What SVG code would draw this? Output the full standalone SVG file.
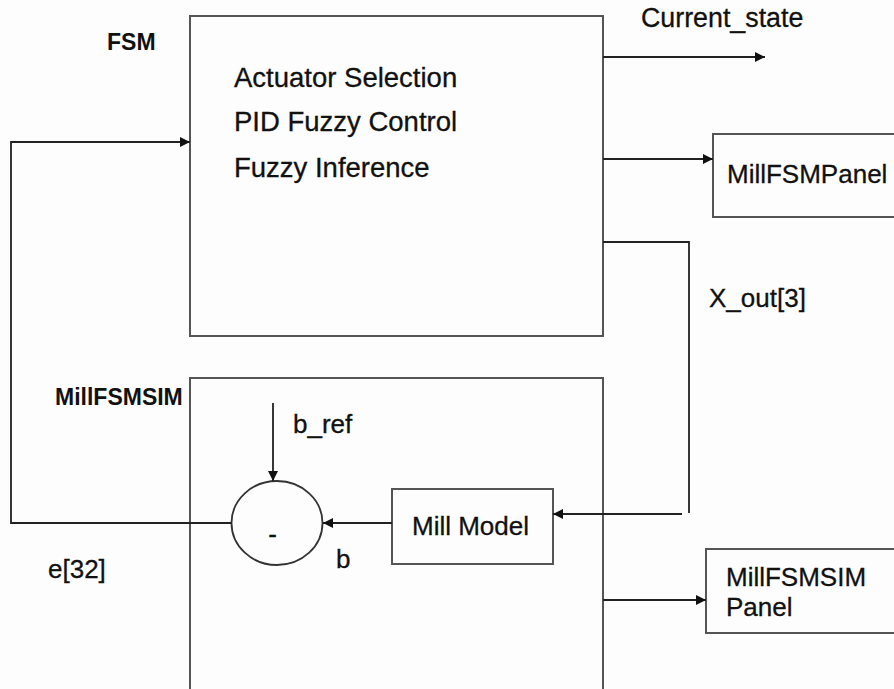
<svg xmlns="http://www.w3.org/2000/svg" width="894" height="689" viewBox="0 0 894 689">
<style>
.box{fill:none;stroke:#555;stroke-width:2}
.ln{fill:none;stroke:#222;stroke-width:1.8}
.t{font-family:"Liberation Sans",Arial,sans-serif;font-size:26px;fill:#111;stroke:#111;stroke-width:0.3}
.big{font-size:27.5px}
.lb{font-family:"Liberation Sans",Arial,sans-serif;font-size:23px;font-weight:bold;fill:#111}
</style>
<defs>
<marker id="ah" viewBox="0 0 10 10" refX="10" refY="5" markerWidth="10" markerHeight="10" markerUnits="userSpaceOnUse" orient="auto">
<path d="M0,0 L10,5 L0,10 Z" fill="#111"/>
</marker>
</defs>
<rect width="894" height="689" fill="#fdfdfd"/>
<g id="fsm">
<rect class="box" x="190" y="16" width="413" height="320"/>
<text class="lb" x="107" y="50">FSM</text>
<text class="t big" x="234" y="87">Actuator Selection</text>
<text class="t big" x="234" y="131">PID Fuzzy Control</text>
<text class="t big" x="234" y="177">Fuzzy Inference</text>
</g>
<g id="millfsmpanel">
<rect class="box" x="713" y="134" width="200" height="83"/>
<text class="t" x="727" y="183">MillFSMPanel</text>
</g>
<g id="millfsmsim">
<rect class="box" x="190" y="378" width="413" height="330"/>
<text class="lb" x="55" y="405">MillFSMSIM</text>
</g>
<g id="summer">
<ellipse cx="277" cy="523" rx="45.5" ry="42" fill="none" stroke="#333" stroke-width="1.8"/>
<text class="t" x="272.5" y="543" text-anchor="middle">-</text>
</g>
<g id="millmodel">
<rect class="box" x="392" y="489" width="161" height="75"/>
<text class="t" x="412" y="535">Mill Model</text>
</g>
<g id="millfsmsimpanel">
<rect class="box" x="706" y="549" width="200" height="84"/>
<text class="t" x="726" y="586">MillFSMSIM</text>
<text class="t" x="726" y="616">Panel</text>
</g>
<g id="connectors">
<path class="ln" d="M603,57 H765" marker-end="url(#ah)"/>
<path class="ln" d="M603,159 H713" marker-end="url(#ah)"/>
<path class="ln" d="M603,242 H689 V513"/>
<path class="ln" d="M682,514 H553" marker-end="url(#ah)"/>
<path class="ln" d="M392,523 H323" marker-end="url(#ah)"/>
<path class="ln" d="M273,403 V481" marker-end="url(#ah)"/>
<path class="ln" d="M231.5,523 H11 V142 H190" marker-end="url(#ah)"/>
<path class="ln" d="M603,600 H706" marker-end="url(#ah)"/>
<text class="t" x="641" y="27" style="font-size:26.8px">Current_state</text>
<text class="t" x="709" y="307">X_out[3]</text>
<text class="t" x="293" y="433">b_ref</text>
<text class="t" x="336" y="568">b</text>
<text class="t" x="48" y="578">e[32]</text>
</g>
</svg>
